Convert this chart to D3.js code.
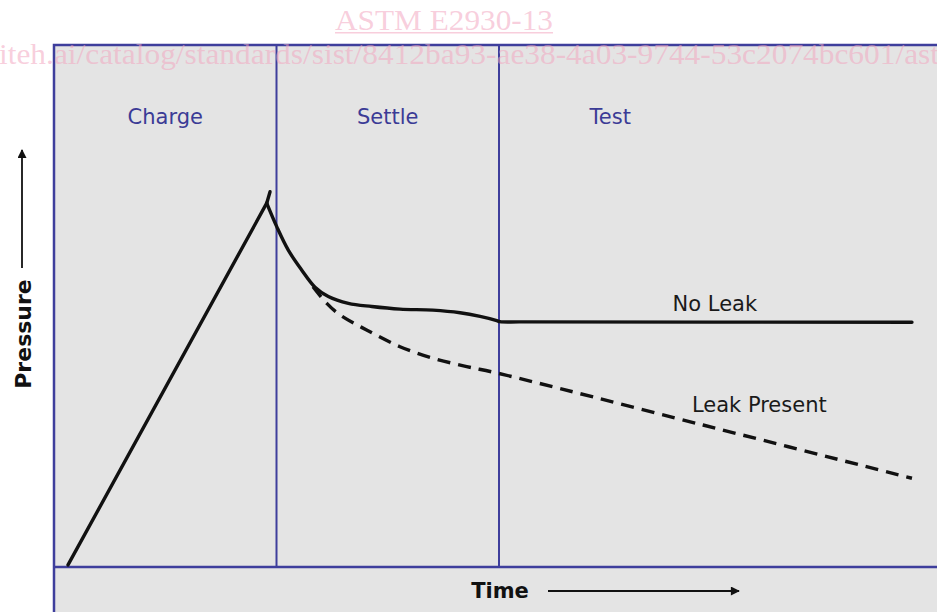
<!DOCTYPE html>
<html>
<head>
<meta charset="utf-8">
<script src="https://cdn.jsdelivr.net/npm/d3@7"></script>
<style>
  body { margin: 0; background: #fff; }
  svg { display: block; }
</style>
</head>
<body>
<div class="pressureChart"></div>
<script>
// phases of the test, each 10 time units long
var phases = ["Charge", "Settle", "Test"];
var phaseStarts = [0, 10, 20];

// charge ramp (time, pressure)
var chargeTime = [0.63, 9.56];
var chargePressure = [0.4, 69.7];
var overshootTime = [9.56, 9.71];
var overshootPressure = [69.7, 71.9];

// pressure when there is no leak
var noLeakTime = [9.56, 10.01, 10.53, 11.13, 11.73, 12.33, 13.23, 14.28, 15.55, 17.03, 18.25, 19.15, 19.9, 20.04, 21.0, 38.56];
var noLeakPressure = [69.7, 65.2, 60.7, 56.9, 53.6, 51.8, 50.5, 49.9, 49.4, 49.2, 48.7, 48.0, 47.2, 47.0, 46.95, 46.9];

// pressure when a leak is present
var leakTime = [11.64, 12.26, 12.85, 14.05, 15.55, 17.03, 18.55, 19.97, 29.17, 38.56];
var leakPressure = [53.7, 50.5, 48.3, 45.4, 42.2, 40.0, 38.4, 37.1, 27.2, 17.0];

var watermarkTitle = "ASTM E2930-13";
var watermarkUrl = "iteh.ai/catalog/standards/sist/8412ba93-ae38-4a03-9744-53c2074bc601/ast";

var width = 937,
    height = 612,
    frameLeft = 54,
    frameTop = 45,
    baseY = 567,
    frameColor = "#3e3e9c",
    labelFont = "Verdana, 'DejaVu Sans', sans-serif";

var svg = d3.select(".pressureChart").append("svg")
    .attr("width", width)
    .attr("height", height);

var x = d3.scaleLinear().domain([0, 40]).range([frameLeft, frameLeft + 890]);
var y = d3.scaleLinear().domain([0, 100]).range([baseY, frameTop]);

// grey plot panel, running off the right and bottom edges
svg.append("rect")
    .attr("x", x(0))
    .attr("y", y(100))
    .attr("width", width)
    .attr("height", height)
    .style("fill", "#e4e4e4")
    .style("stroke", frameColor)
    .style("stroke-width", 2.5);

// phase dividers
svg.selectAll(".divider")
    .data(phaseStarts.slice(1))
    .enter().append("line")
      .attr("class", "divider")
      .attr("x1", function(d) { return x(d); })
      .attr("x2", function(d) { return x(d); })
      .attr("y1", y(100))
      .attr("y2", y(0))
      .style("stroke", frameColor)
      .style("stroke-width", 2);

svg.append("line")
    .attr("x1", x(0))
    .attr("x2", width)
    .attr("y1", y(0))
    .attr("y2", y(0))
    .style("stroke", frameColor)
    .style("stroke-width", 2.5);

svg.selectAll(".phase")
    .data(phases)
    .enter().append("text")
      .attr("class", "phase")
      .attr("x", function(d, i) { return x(phaseStarts[i] + 5); })
      .attr("y", 124)
      .style("text-anchor", "middle")
      .style("font-family", labelFont)
      .style("font-size", "21px")
      .style("fill", "#3b3b96")
      .text(function(d) { return d; });

function zip(ts, ps) {
  return ts.map(function(t, i) { return [t, ps[i]]; });
}

var line = d3.line()
    .x(function(d) { return x(d[0]); })
    .y(function(d) { return y(d[1]); });

var smooth = d3.line()
    .curve(d3.curveCatmullRom.alpha(0.5))
    .x(function(d) { return x(d[0]); })
    .y(function(d) { return y(d[1]); });

var curves = svg.append("g")
    .style("fill", "none")
    .style("stroke", "#111")
    .style("stroke-width", 3.4)
    .style("stroke-linecap", "round");

curves.append("path").attr("d", line(zip(chargeTime, chargePressure)));
curves.append("path").attr("d", line(zip(overshootTime, overshootPressure)));
curves.append("path").attr("d", smooth(zip(noLeakTime, noLeakPressure)));
curves.append("path")
    .attr("d", smooth(zip(leakTime, leakPressure)))
    .style("stroke-linecap", "butt")
    .style("stroke-dasharray", "13,8");

svg.append("text")
    .attr("x", x(29.7))
    .attr("y", 311)
    .style("text-anchor", "middle")
    .style("font-family", labelFont)
    .style("font-size", "21px")
    .style("fill", "#1a1a1a")
    .text("No Leak");

svg.append("text")
    .attr("x", x(31.7))
    .attr("y", 412)
    .style("text-anchor", "middle")
    .style("font-family", labelFont)
    .style("font-size", "21px")
    .style("fill", "#1a1a1a")
    .text("Leak Present");

// axis names with arrows
var defs = svg.append("defs");
defs.append("marker")
    .attr("id", "arrow")
    .attr("viewBox", "0 0 10 10")
    .attr("refX", 9)
    .attr("refY", 5)
    .attr("markerWidth", 6)
    .attr("markerHeight", 5)
    .attr("orient", "auto")
  .append("path")
    .attr("d", "M0,0L10,5L0,10Z")
    .style("fill", "#111");

svg.append("text")
    .attr("transform", "translate(31,334) rotate(-90)")
    .style("text-anchor", "middle")
    .style("font-family", labelFont)
    .style("font-size", "22px")
    .style("font-weight", "bold")
    .style("fill", "#111")
    .text("Pressure");

svg.append("line")
    .attr("x1", 22).attr("y1", 268)
    .attr("x2", 22).attr("y2", 150)
    .style("stroke", "#111")
    .style("stroke-width", 1.8)
    .attr("marker-end", "url(#arrow)");

svg.append("text")
    .attr("x", 500)
    .attr("y", 598)
    .style("text-anchor", "middle")
    .style("font-family", labelFont)
    .style("font-size", "21px")
    .style("font-weight", "bold")
    .style("fill", "#111")
    .text("Time");

svg.append("line")
    .attr("x1", 548).attr("y1", 591)
    .attr("x2", 739).attr("y2", 591)
    .style("stroke", "#111")
    .style("stroke-width", 1.8)
    .attr("marker-end", "url(#arrow)");

// pink document watermark on top
var mark = svg.append("g")
    .style("font-family", "'Liberation Serif', 'Times New Roman', serif")
    .style("fill", "#f2a6c0")
    .style("fill-opacity", 0.55);

mark.append("text")
    .attr("x", 335)
    .attr("y", 30)
    .attr("textLength", 218)
    .attr("lengthAdjust", "spacingAndGlyphs")
    .style("font-size", "29px")
    .text(watermarkTitle);

mark.append("rect")
    .attr("x", 335)
    .attr("y", 32)
    .attr("width", 218)
    .attr("height", 1.5);

mark.append("text")
    .attr("x", -1)
    .attr("y", 64)
    .attr("textLength", 940)
    .attr("lengthAdjust", "spacingAndGlyphs")
    .style("font-size", "30px")
    .text(watermarkUrl);
</script>
</body>
</html>
